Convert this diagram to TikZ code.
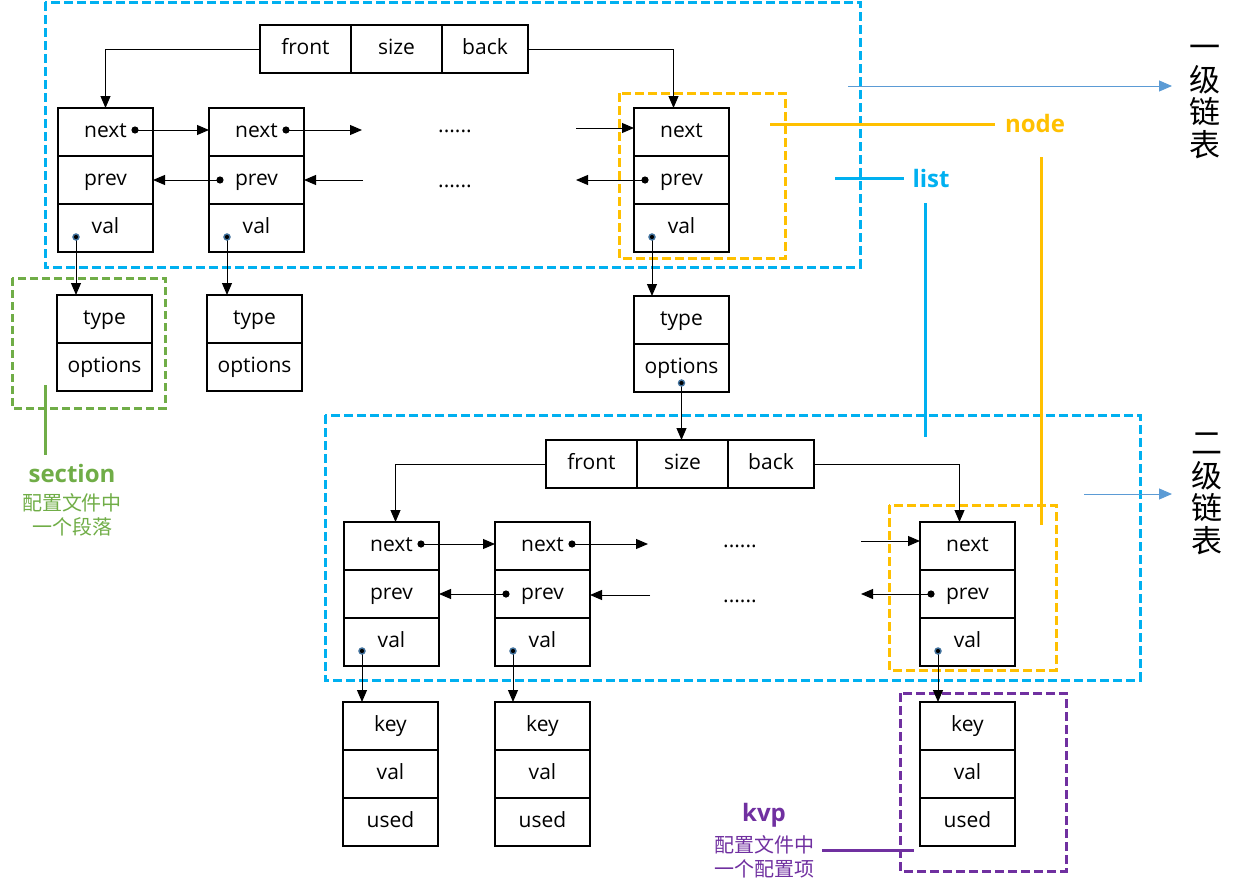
\documentclass[tikz,border=0pt]{standalone}
\usepackage{fontspec}
\setmainfont{Open Sans}
\newfontfamily\cjk{Noto Sans CJK SC}
\usetikzlibrary{arrows.meta,calc}
\definecolor{lblue}{HTML}{00B0F0}
\definecolor{ylw}{HTML}{FFC000}
\definecolor{grn}{HTML}{70AD47}
\definecolor{prp}{HTML}{7030A0}
\definecolor{abl}{HTML}{5B9BD5}
\definecolor{dotblue}{HTML}{41719C}
\tikzset{
  cell/.style={draw, line width=1pt, minimum width=94pt, minimum height=47pt, inner sep=0pt,
    text height=15pt, text depth=4pt,
    font=\fontsize{21}{24}\selectfont, anchor=north west},
  frame/.style={draw, line width=2.2pt},
  arr/.style={line width=1pt, -{Triangle[length=12pt,width=10pt]}},
  sidearr/.style={abl, line width=1pt, -{Triangle[length=13pt,width=11pt]}},
  dashbox/.style={line width=3pt, dash pattern=on 9pt off 4pt},
  labline/.style={line width=3pt},
  lab/.style={font=\fontsize{24}{27}\selectfont\bfseries, inner sep=0pt},
  cjklab/.style={font=\cjk\fontsize{20}{24}\selectfont, align=center, inner sep=0pt},
  sidelab/.style={font=\cjk\fontsize{31}{32.5}\selectfont, align=center, inner sep=0pt},
  ell/.style={font=\fontsize{21}{24}\selectfont, inner sep=0pt},
}
\newcommand\LLnode[3]{%
  \node[cell] (#1-next) at (#2,#3) {next};
  \node[cell] (#1-prev) at (#1-next.south west) {prev};
  \node[cell] (#1-val) at (#1-prev.south west) {val};
  \draw[frame] (#1-next.north west) rectangle (#1-val.south east);
  \coordinate (#1-nd) at ($(#1-next.east)+(-18,-2)$);
  \coordinate (#1-pd) at ($(#1-prev.west)+(11,0)$);
  \coordinate (#1-vd) at ($(#1-val.west)+(18,9)$);
}
\newcommand\LLhead[3]{%
  \node[cell, minimum width=90pt] (#1-front) at (#2,#3) {front};
  \node[cell, minimum width=90pt] (#1-size) at (#1-front.north east) {size};
  \node[cell, minimum width=85pt] (#1-back) at (#1-size.north east) {back};
  \draw[frame] (#1-front.north west) rectangle (#1-back.south east);
}
\newcommand\TYbox[3]{%
  \node[cell] (#1-type) at (#2,#3) {type};
  \node[cell] (#1-opt) at (#1-type.south west) {options};
  \draw[frame] (#1-type.north west) rectangle (#1-opt.south east);
}
\newcommand\KVbox[3]{%
  \node[cell] (#1-key) at (#2,#3) {key};
  \node[cell] (#1-val) at (#1-key.south west) {val};
  \node[cell] (#1-used) at (#1-val.south west) {used};
  \draw[frame] (#1-key.north west) rectangle (#1-used.south east);
}
\newcommand\ndot[1]{\fill (#1) circle (3.6pt);}
\newcommand\vdot[1]{\filldraw[fill=black, draw=dotblue, line width=1.4pt] (#1) circle (3pt);}
\begin{document}
\begin{tikzpicture}[x=1pt,y=-1pt]
\useasboundingbox (0,0) rectangle (1243,894);
% ---------- level 1 ----------
\draw[lblue, dashbox] (45,2) rectangle (860,267);
\LLhead{h1}{260}{25}
\LLnode{a1}{58}{108}
\LLnode{a2}{209}{108}
\LLnode{a3}{634}{108}
\draw[ylw, dashbox] (619,93) rectangle (785,258);
\TYbox{t1}{57}{295}
\TYbox{t2}{207}{295}
\TYbox{t3}{634}{296}
\draw[grn, dashbox, dash pattern=on 8pt off 4pt] (12,278) rectangle (165,408);

\node[ell] (e1) at (455,131) {......};
\node[ell] (e2) at (455,186) {......};
\coordinate (f1) at (362,130);
\coordinate (f2) at (576,128);
\coordinate (f3) at (363,180);
\coordinate (f4) at (576,183);

\draw[arr] (h1-front.west) -| (a1-next.north);
\draw[arr] (h1-back.east) -| ([xshift=-8pt]a3-next.north);
\draw[arr] (a1-nd) -- (a1-nd -| a2-next.west);
\draw[arr] (a2-nd) -- (a2-nd -| f1);
\draw[arr] (f2) -- (f2 -| a3-next.west);
\draw[arr] (a2-pd) -- (a2-pd -| a1-prev.east);
\draw[arr] (f3) -- (f3 -| a2-prev.east);
\draw[arr] (a3-pd) -- (a3-pd -| f4);
\draw[arr] (a1-vd) -- (a1-vd |- t1-type.north);
\draw[arr] (a2-vd) -- (a2-vd |- t2-type.north);
\draw[arr] (a3-vd) -- (a3-vd |- t3-type.north);
\ndot{a1-nd}\ndot{a2-nd}\ndot{a2-pd}\ndot{a3-pd}
\vdot{a1-vd}\vdot{a2-vd}\vdot{a3-vd}
\coordinate (t3-od) at ($(t3-opt.center)+(0,15)$);

% ---------- level 2 ----------
\draw[lblue, dashbox] (325,415) rectangle (1140,680);
\LLhead{h2}{546}{440}
\LLnode{b1}{344}{522}
\LLnode{b2}{495}{522}
\LLnode{b3}{920}{522}
\draw[ylw, dashbox] (889,505) rectangle (1056,670);
\KVbox{k1}{343}{702}
\KVbox{k2}{495}{702}
\KVbox{k3}{920}{702}
\draw[prp, dashbox] (900,693) rectangle (1066,871);

\node[ell] (e3) at (740,546) {......};
\node[ell] (e4) at (740,601) {......};
\coordinate (g1) at (648,545);
\coordinate (g2) at (861,541);
\coordinate (g3) at (650,595);
\coordinate (g4) at (861,598);

\draw[arr] (t3-od) -- (t3-od |- h2-size.north);
\vdot{t3-od}
\draw[arr] (h2-front.west) -| ([xshift=4pt]b1-next.north);
\draw[arr] (h2-back.east) -| ([xshift=-8pt]b3-next.north);
\draw[arr] (b1-nd) -- (b1-nd -| b2-next.west);
\draw[arr] (b2-nd) -- (b2-nd -| g1);
\draw[arr] (g2) -- (g2 -| b3-next.west);
\draw[arr] (b2-pd) -- (b2-pd -| b1-prev.east);
\draw[arr] (g3) -- (g3 -| b2-prev.east);
\draw[arr] (b3-pd) -- (b3-pd -| g4);
\draw[arr] (b1-vd) -- (b1-vd |- k1-key.north);
\draw[arr] (b2-vd) -- (b2-vd |- k2-key.north);
\draw[arr] (b3-vd) -- (b3-vd |- k3-key.north);
\ndot{b1-nd}\ndot{b2-nd}\ndot{b2-pd}\ndot{b3-pd}
\vdot{b1-vd}\vdot{b2-vd}\vdot{b3-vd}

% ---------- labels ----------
\node[lab, text=ylw] (lnode) at (1035,123) {node};
\node[lab, text=lblue] (llist) at (931,178) {list};
\node[lab, text=grn] (lsec) at (72,473) {section};
\node[cjklab, text=grn] (lsec2) at (72,515) {配置文件中\\一个段落};
\node[lab, text=prp] (lkvp) at (764,815) {kvp};
\node[cjklab, text=prp] (lkvp2) at (764,857) {配置文件中\\一个配置项};

\coordinate (yl1) at (770,124);
\coordinate (yl2) at (1041,157);
\coordinate (yl3) at (1041,525);
\coordinate (bl1) at (835,178);
\coordinate (bl2) at (925,203);
\coordinate (bl3) at (925,437);
\coordinate (gl1) at (45,385);
\coordinate (gl2) at (45,455);
\coordinate (pl1) at (914,850);
\draw[ylw, labline] (yl1) -- ([xshift=-10pt]lnode.west |- yl1);
\draw[ylw, labline] (yl2) -- (yl3);
\draw[lblue, labline] (bl1) -- ([xshift=-8pt]llist.west |- bl1);
\draw[lblue, labline] (bl2) -- (bl3);
\draw[grn, labline] (gl1) -- (gl2);
\draw[prp, labline] (lkvp2.east |- pl1) ++(8,0) -- (pl1);

\node[sidelab] (side1) at (1205,102) {一\\级\\链\\表};
\node[sidelab] (side2) at (1207,494) {二\\级\\链\\表};
\coordinate (sa1) at (848,86);
\coordinate (sa2) at (1084,494);
\draw[sidearr] (sa1) -- (1172,86);
\draw[sidearr] (sa2) -- (1172,494);
\end{tikzpicture}
\end{document}
